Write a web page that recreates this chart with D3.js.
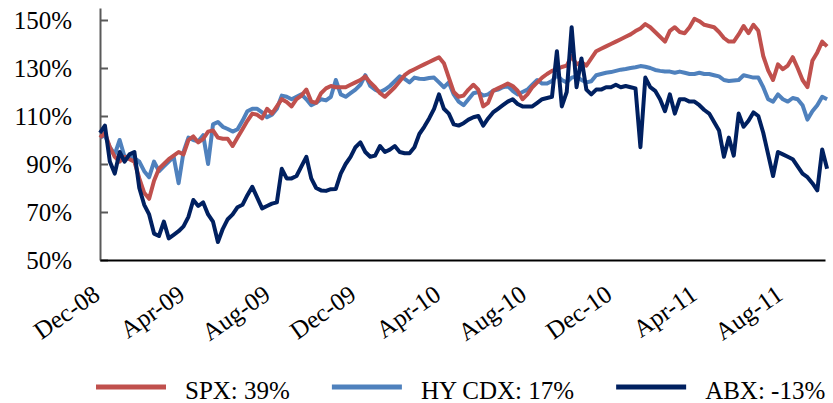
<!DOCTYPE html>
<html>
<head>
<meta charset="utf-8">
<script src="https://cdn.jsdelivr.net/npm/d3@7/dist/d3.min.js"></script>
<style>
  body { margin: 0; background: #fff; }
  svg { display: block; font-family: "Liberation Serif", "Times New Roman", serif; }
</style>
</head>
<body>
<script>
// weekly observations starting 1 Dec 2008, indexed to 100%
var startDate = new Date(2008, 11, 1);
var endDate = new Date(2011, 8, 30);

var seriesNames = ["SPX", "HY CDX", "ABX"];
var legendLabels = ["SPX: 39%", "HY CDX: 17%", "ABX: -13%"];
var colors = ["#C0504D", "#4F81BD", "#002060"];
var yTicks = [50, 70, 90, 110, 130, 150];

var spx = [
  101, 103, 97, 93, 91, 93, 92, 91, 84, 78,
  75.5, 83, 88, 90, 92, 93.5, 95, 94, 100, 101.5,
  99, 100.5, 103.5, 104, 101, 100.5, 100.5, 97.5, 101, 104.5,
  108, 111, 110.5, 109, 113, 111, 114, 117, 115.8, 114,
  117, 118.5, 121, 116, 115.5, 119.5, 121.5, 122.5, 122, 122,
  122, 123, 124, 125, 126.5, 124, 122, 119.5, 118, 120,
  122, 124.5, 127, 128.5, 129.5, 130.5, 131.5, 132.5, 133.5, 134.5,
  132, 126, 120, 118, 118.5, 121, 123, 121, 114, 115.5,
  120.5, 121.5, 122.5, 123.5, 122.5, 120.5, 117, 119, 122, 124,
  126, 127.5, 128.8, 129.5, 130.4, 131, 135, 131.5, 132.5, 131,
  134, 137, 138, 139, 140, 141, 142, 143, 144, 145.4,
  146.5, 148.3, 147, 145, 143, 141, 145.5, 147, 145, 144.5,
  147, 150.5, 149.5, 148, 147.5, 147, 145, 142.5, 141, 141,
  144, 147.5, 144.5, 148, 145.5, 135, 129, 125, 131.5, 129.5,
  131, 134.5, 130, 125, 122, 133, 136.5, 141, 139
];

var hyCdx = [
  101, 102, 97, 94, 100, 93, 93, 92.5, 91, 87,
  84.5, 91, 87, 89, 91, 93, 82, 95, 101, 100,
  99.5, 102, 90, 106.5, 107.5, 105.5, 104.6, 103.5, 104.5, 108,
  112, 113, 113, 111.5, 109.5, 110.5, 113, 118.5, 118, 117,
  118, 119, 117, 114.5, 115.5, 117, 116.5, 118, 125, 119,
  118, 119.5, 121, 123, 127, 122.5, 121, 120, 121, 122.5,
  124.5, 126.5, 125.5, 124, 126, 125.5, 125.4, 125.8, 126, 124,
  122, 124, 119, 116, 114.5, 117, 119.5, 120, 118.5, 119,
  120.5, 121, 122, 122.5, 120.5, 119, 120, 121, 123, 125,
  123.5, 123.5, 124.6, 127, 125, 124, 126, 126.5, 125, 124,
  124.5, 127, 127.5, 128, 128.3, 128.8, 129.3, 129.6, 130, 130.3,
  130.8, 130.5, 130, 129.2, 128.8, 128.5, 128.5, 128, 128.5, 128,
  127.5, 127.5, 128, 127.5, 127.5, 127, 126.5, 125, 124.6, 124.8,
  125, 127, 126.5, 126, 126, 122, 117, 116, 119, 117,
  116, 117.5, 117, 114.5, 108.5, 112, 114.5, 118, 117
];

var abx = [
  103, 106, 91, 86, 95, 91, 94, 95, 80, 73,
  69, 61, 60, 66, 59, 60.5, 62, 64, 68, 75,
  72.5, 74, 69, 66, 57.5, 63, 67, 69, 72, 73,
  77, 80.5, 76, 71.5, 72.5, 73.5, 74, 88, 84, 84,
  85, 89, 93, 84, 80, 79, 78.8, 79.5, 79.6, 86,
  90, 93, 97, 99, 95, 93, 93.5, 97.5, 95, 96,
  97.5, 95, 94.5, 94.5, 97, 102.5, 105.5, 109, 113, 119,
  113, 111, 106.5, 106, 107, 108.5, 109.5, 110, 106, 109,
  111.5, 113, 114.5, 116, 117, 115, 114, 114, 114, 115.5,
  117, 117.5, 118, 137, 114, 120, 147, 122, 134, 121,
  119, 121, 121, 122, 122, 123, 122, 122.5, 122, 121.5,
  97, 126, 122, 120.5, 117, 112, 119, 111, 117, 117,
  116, 116, 114.5, 112.5, 111, 107.5, 104, 93, 101, 93.5,
  111, 105.5, 108, 111.5, 110, 103, 94, 85, 95, 94,
  93, 92, 89, 86, 84.5, 82, 79, 96, 88
];

var width = 833, height = 403;
var margin = { left: 100, right: 8, top: 8, bottom: 143 };

var svg = d3.select("body").append("svg")
  .attr("width", width)
  .attr("height", height);

var dates = spx.map(function (d, i) {
  return d3.timeDay.offset(startDate, 7 * i);
});

var x = d3.scaleTime()
  .domain([startDate, endDate])
  .range([margin.left, width - margin.right]);

var y = d3.scaleLinear()
  .domain([50, 155])
  .range([height - margin.bottom, margin.top]);

// y axis, ticks point inward
var yAxis = svg.append("g")
  .attr("transform", "translate(" + margin.left + ",0)")
  .call(d3.axisLeft(y)
    .tickValues(yTicks)
    .tickSizeInner(-8)
    .tickSizeOuter(0)
    .tickPadding(28)
    .tickFormat(function (d) { return d + "%"; }));

yAxis.select(".domain").attr("stroke", "#595959").attr("stroke-width", 2);
yAxis.selectAll(".tick line").attr("stroke", "#595959").attr("stroke-width", 2);
yAxis.selectAll(".tick text")
  .attr("font-size", 25)
  .attr("fill", "#000")
  .attr("font-family", "Liberation Serif, serif");

// x axis
var monthTicks = d3.timeMonth.range(startDate, endDate, 4);

var xAxis = svg.append("g")
  .attr("transform", "translate(0," + y(50) + ")")
  .call(d3.axisBottom(x)
    .tickValues(monthTicks)
    .tickSize(0)
    .tickFormat(d3.timeFormat("%b-%y")));

xAxis.select(".domain").attr("stroke", "#000").attr("stroke-width", 2);
xAxis.selectAll(".tick text")
  .attr("font-size", 25)
  .attr("fill", "#000")
  .attr("font-family", "Liberation Serif, serif")
  .attr("text-anchor", "end")
  .attr("x", 1)
  .attr("y", 38)
  .attr("dy", 0)
  .attr("transform", "rotate(-35 1 38)");

// lines
var line = d3.line()
  .x(function (d) { return x(d.date); })
  .y(function (d) { return y(d.value); });

var allSeries = [spx, hyCdx, abx];
var drawOrder = [1, 0, 2];

drawOrder.forEach(function (k) {
  var pts = allSeries[k].map(function (v, i) {
    return { date: dates[i], value: v };
  });
  svg.append("path")
    .datum(pts)
    .attr("fill", "none")
    .attr("stroke", colors[k])
    .attr("stroke-width", 4)
    .attr("stroke-linejoin", "round")
    .attr("d", line);
});

// legend
var legend = svg.append("g").attr("class", "legend");
var lx = 96;
legendLabels.forEach(function (label, i) {
  legend.append("line")
    .attr("x1", lx).attr("x2", lx + 70)
    .attr("y1", 387).attr("y2", 387)
    .attr("stroke", colors[i])
    .attr("stroke-width", 5);
  var t = legend.append("text")
    .attr("x", lx + 89)
    .attr("y", 399)
    .attr("font-size", 25)
    .attr("fill", "#000")
    .text(label);
  lx = lx + 89 + t.node().getComputedTextLength() + 42;
});
</script>
</body>
</html>
